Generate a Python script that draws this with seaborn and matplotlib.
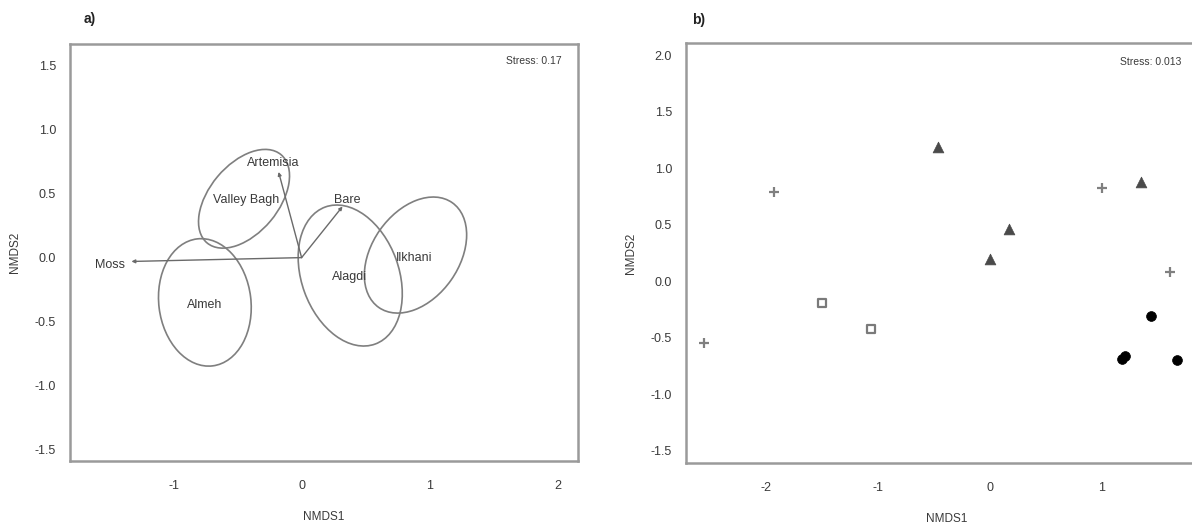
import numpy as np
import pandas as pd
import matplotlib
matplotlib.use("Agg")
import matplotlib.pyplot as plt
from matplotlib.patches import Ellipse
import seaborn as sns

# ── Data: panel a (NMDS of sites, with env vectors) ───────────────────────────
site_names = ["Valley Bagh", "Almeh", "Alagdi", "Ilkhani"]
site_x = [-0.45, -0.756, 0.38, 0.89]
site_y = [0.46, -0.35, -0.14, 0.02]
ell_width = [0.90, 0.72, 1.14, 1.00]
ell_height = [0.54, 1.00, 0.76, 0.68]
ell_angle = [50, 7, -70, 55]

site_lab_x = [-0.43, -0.76, 0.375, 0.88]
site_lab_y = [0.45, -0.37, -0.15, 0.00]

vec_names = ["Moss", "Artemisia", "Bare"]
vec_x = [-1.33, -0.18, 0.32]
vec_y = [-0.03, 0.67, 0.40]
vec_lab_x = [-1.38, -0.22, 0.36]
vec_lab_y = [-0.055, 0.74, 0.45]

# ── Data: panel b (NMDS of samples by group) ─────────────────────────────────
plus_x = [-1.92, -2.55, 1.00, 1.615]
plus_y = [0.79, -0.55, 0.83, 0.08]
tri_x = [-0.46, 0.17, 0.00, 1.35]
tri_y = [1.19, 0.46, 0.20, 0.88]
sq_x = [-1.50, -1.06]
sq_y = [-0.19, -0.42]
dot_x = [1.44, 1.18, 1.21, 1.67]
dot_y = [-0.31, -0.69, -0.66, -0.70]

a_xticks = [-1, 0, 1, 2]
a_yticks = [-1.5, -1.0, -0.5, 0.0, 0.5, 1.0, 1.5]
b_xticks = [-2, -1, 0, 1]
b_yticks = [-1.5, -1.0, -0.5, 0.0, 0.5, 1.0, 1.5, 2.0]

# ── Style ─────────────────────────────────────────────────────────────────────
sns.set_style("white")
plt.rcParams["font.family"] = ["Liberation Sans", "DejaVu Sans"]
plt.rcParams["axes.unicode_minus"] = False

TXT = "#3a3a3a"
LINE = "#7f7f7f"

fig = plt.figure(figsize=(11.92, 5.23), dpi=100)
ax_a = fig.add_axes([70 / 1192, 62 / 523, 508 / 1192, 417 / 523])
ax_b = fig.add_axes([686 / 1192, 60 / 523, 522 / 1192, 420 / 523])


def style_axes(ax, xticks, yticks, xlim, ylim):
    ax.set_xlim(*xlim)
    ax.set_ylim(*ylim)
    ax.set_xticks(xticks)
    ax.set_yticks(yticks)
    ax.set_xticklabels([f"{t:g}" for t in xticks])
    ax.set_yticklabels([f"{t:.1f}" for t in yticks])
    for s in ax.spines.values():
        s.set_color("#9a9a9a")
        s.set_linewidth(1.8)
    ax.tick_params(axis="both", direction="out", length=3, width=1.2,
                   color="#777777", labelsize=9, labelcolor=TXT)
    ax.tick_params(axis="x", pad=11)
    ax.tick_params(axis="y", pad=7)
    ax.set_xlabel("NMDS1", fontsize=8.5, color=TXT, labelpad=13)
    ax.set_ylabel("NMDS2", fontsize=8.5, color=TXT, labelpad=10)


# ── Panel a ───────────────────────────────────────────────────────────────────
style_axes(ax_a, a_xticks, a_yticks, (-1.81, 2.16), (-1.59, 1.67))

for cx, cy, w, h, ang in zip(site_x, site_y, ell_width, ell_height, ell_angle):
    ax_a.add_patch(Ellipse((cx, cy), w, h, angle=ang, fill=False,
                           edgecolor=LINE, linewidth=1.2))
for name, lx, ly in zip(site_names, site_lab_x, site_lab_y):
    ax_a.text(lx, ly, name, ha="center", va="center", fontsize=9, color=TXT)

for vx, vy in zip(vec_x, vec_y):
    ax_a.annotate("", xy=(vx, vy), xytext=(0, 0),
                  arrowprops=dict(arrowstyle="-|>", color="#6a6a6a", lw=1.0,
                                  mutation_scale=5, shrinkA=0, shrinkB=0))
for name, lx, ly in zip(vec_names, vec_lab_x, vec_lab_y):
    ha = "right" if lx < -1 else "center"
    ax_a.text(lx, ly, name, ha=ha, va="center", fontsize=9, color=TXT)

fig.text(562 / 1192, 1 - 61 / 523, "Stress: 0.17",
         ha="right", va="center", fontsize=7.5, color=TXT)
fig.text(90 / 1192, 1 - 19 / 523, "a)", ha="center", va="center",
         fontsize=10, fontweight="bold", color="#222222")

# ── Panel b ───────────────────────────────────────────────────────────────────
style_axes(ax_b, b_xticks, b_yticks, (-2.71, 1.95), (-1.61, 2.11))

sns.scatterplot(x=plus_x, y=plus_y, marker="+", s=60, color="#808080",
                linewidth=1.6, ax=ax_b)
sns.scatterplot(x=tri_x, y=tri_y, marker="^", s=60, color="#4a4a4a",
                edgecolor="#4a4a4a", linewidth=0.5, ax=ax_b)
sns.scatterplot(x=sq_x, y=sq_y, marker="s", s=36, facecolor="white",
                edgecolor="#7a7a7a", linewidth=1.6, ax=ax_b)
sns.scatterplot(x=dot_x, y=dot_y, marker="o", s=50, color="black",
                edgecolor="black", linewidth=0.5, ax=ax_b)

fig.text(1181 / 1192, 1 - 62 / 523, "Stress: 0.013",
         ha="right", va="center", fontsize=7.5, color=TXT)
fig.text(699 / 1192, 1 - 20 / 523, "b)", ha="center", va="center",
         fontsize=10, fontweight="bold", color="#222222")

fig.savefig("out.png", dpi=100)
